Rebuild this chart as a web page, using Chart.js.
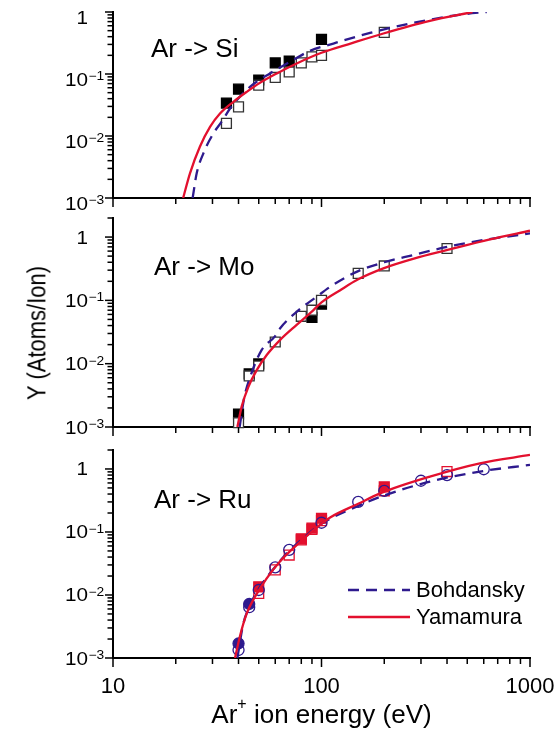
<!DOCTYPE html>
<html>
<head>
<meta charset="utf-8">
<script src="https://cdn.jsdelivr.net/npm/chart.js@4.4.1/dist/chart.umd.min.js"></script>
<style>
  body { margin: 0; background: #fff; width: 556px; height: 731px; overflow: hidden; position: relative;
         font-family: "Liberation Sans", Arial, sans-serif; }
  canvas { position: absolute; left: 0; top: 0; }
  #ytitle { position: absolute; left: 37px; top: 333px; transform: translate(-50%, -50%) rotate(-90deg) scaleY(1.2);
            font-size: 22px; white-space: nowrap; color: #000; }
</style>
</head>
<body>
<canvas id="c1" width="556" height="731"></canvas>
<canvas id="c2" width="556" height="731"></canvas>
<canvas id="c3" width="556" height="731"></canvas>
<div id="ytitle">Y (Atoms/Ion)</div>
<script>
var FONT = '"Liberation Sans", Arial, sans-serif';
var RED = '#e3102e';
var NAVY = '#2e1a8e';

// axes
var xTicks = [10, 20, 30, 40, 50, 60, 70, 80, 90, 100, 200, 300, 400, 500, 600, 700, 800, 900, 1000];
var xLabels = [10, 100, 1000];
var yTicks = [0.001, 0.002, 0.003, 0.004, 0.005, 0.006, 0.007, 0.008, 0.009,
              0.01, 0.02, 0.03, 0.04, 0.05, 0.06, 0.07, 0.08, 0.09,
              0.1, 0.2, 0.3, 0.4, 0.5, 0.6, 0.7, 0.8, 0.9, 1, 2];
var yMajor = [1, 0.1, 0.01, 0.001];
var yBase = ['1', '10', '10', '10'];
var yExp = ['', '\u22121', '\u22122', '\u22123'];

// Ar -> Si
var siFilledE = [35, 40, 50, 60, 70, 100];
var siFilledY = [0.034, 0.057, 0.08, 0.151, 0.161, 0.363];
var siOpenE = [35, 40, 50, 60, 70, 80, 90, 100, 200];
var siOpenY = [0.016, 0.0295, 0.066, 0.088, 0.108, 0.151, 0.189, 0.20, 0.47];
var siYamE = [21.7, 23.4, 26.1, 29.2, 32.6, 37.8, 43.8, 50.7, 61, 76, 100, 140, 198, 331, 530];
var siYamY = [0.001, 0.0025, 0.0067, 0.014, 0.023, 0.0356, 0.0515, 0.072, 0.102, 0.148, 0.22, 0.315, 0.45, 0.72, 1.0];
var siBohE = [24.1, 25.2, 27.1, 30.3, 33.2, 36.5, 45.4, 56.6, 70.6, 88, 114, 171, 265, 479, 620];
var siBohY = [0.001, 0.0025, 0.0052, 0.011, 0.017, 0.028, 0.062, 0.102, 0.157, 0.236, 0.31, 0.46, 0.65, 0.92, 1.0];

// Ar -> Mo
var moFilledE = [40, 45, 50, 90, 100];
var moFilledY = [0.0016, 0.0069, 0.0099, 0.054, 0.087];
var moOpenE = [40, 45, 50, 60, 80, 90, 100, 150, 200, 400];
var moOpenY = [0.00117, 0.0064, 0.0092, 0.022, 0.056, 0.070, 0.10, 0.267, 0.35, 0.66];
var moYamE = [39.5, 41.4, 44.6, 48.9, 54.6, 63.2, 76, 91, 100, 123, 150, 198, 280, 398, 643, 1000];
var moYamY = [0.001, 0.0021, 0.0043, 0.0079, 0.0137, 0.0236, 0.041, 0.069, 0.093, 0.145, 0.215, 0.32, 0.46, 0.62, 0.92, 1.26];
var moBohE = [40.5, 42.5, 45.5, 51.6, 59.8, 63.2, 76, 94.8, 110, 150, 200, 276, 400, 600, 1000];
var moBohY = [0.001, 0.0028, 0.0062, 0.0164, 0.027, 0.036, 0.066, 0.114, 0.164, 0.29, 0.40, 0.52, 0.70, 0.9, 1.14];

// Ar -> Ru
var ruCircOpenE = [40, 45, 50, 60, 70, 100, 150, 200, 300, 400, 600];
var ruCircOpenY = [0.00134, 0.0064, 0.012, 0.0275, 0.052, 0.14, 0.30, 0.45, 0.65, 0.80, 0.99];
var ruCircFilledE = [40, 45];
var ruCircFilledY = [0.0017, 0.0072];
var ruSqOpenE = [50, 60, 70, 80, 90, 100, 200, 400];
var ruSqOpenY = [0.0106, 0.025, 0.043, 0.075, 0.11, 0.151, 0.45, 0.91];
var ruSqFilledE = [50, 80, 90, 100, 200];
var ruSqFilledY = [0.0135, 0.078, 0.115, 0.165, 0.52];
var ruYamE = [38.5, 40.6, 43.8, 48, 54.6, 63.2, 76, 91, 100, 110, 150, 191, 331, 575, 1000];
var ruYamY = [0.001, 0.0022, 0.0051, 0.0094, 0.0184, 0.034, 0.062, 0.105, 0.135, 0.17, 0.28, 0.41, 0.755, 1.23, 1.67];
var ruBohE = [39.5, 42, 45, 50, 60, 70, 80, 100, 150, 200, 331, 575, 1000];
var ruBohY = [0.001, 0.0033, 0.0065, 0.0125, 0.028, 0.05, 0.075, 0.135, 0.26, 0.38, 0.63, 0.91, 1.16];

function pts(xs, ys) {
  return xs.map(function (x, i) { return { x: x, y: ys[i] }; });
}

function curve(xs, ys, dashed) {
  return {
    data: pts(xs, ys), showLine: true, pointRadius: 0,
    borderColor: dashed ? NAVY : RED, borderWidth: 2.3,
    borderDash: dashed ? [11, 7] : [],
    cubicInterpolationMode: 'monotone', order: dashed ? 1 : 0
  };
}

function marks(xs, ys, style, stroke, fill, order) {
  return {
    data: pts(xs, ys), showLine: false, clip: false,
    pointStyle: style, pointRadius: style === 'rect' ? 7 : 5.5,
    pointBorderWidth: 1.3, pointBorderColor: stroke, pointBackgroundColor: fill,
    order: order
  };
}

// the original tick labels are a bit wide: draw them stretched sideways
function wideText(ctx, text, x, y, size, align) {
  ctx.save();
  ctx.translate(x, y);
  ctx.scale(1.15, 1);
  ctx.font = size + 'px ' + FONT;
  ctx.textAlign = align;
  ctx.fillText(text, 0, 0);
  ctx.restore();
}

var decor = {
  id: 'decor',
  afterDraw: function (chart, args, o) {
    var ctx = chart.ctx, a = chart.chartArea, xs = chart.scales.x, ys = chart.scales.y;
    ctx.save();
    ctx.strokeStyle = '#000';
    ctx.lineWidth = 1.5;
    xTicks.forEach(function (v) {
      var px = xs.getPixelForValue(v);
      var len = xLabels.indexOf(v) >= 0 ? 9 : 6;
      ctx.beginPath(); ctx.moveTo(px, a.bottom); ctx.lineTo(px, a.bottom + len); ctx.stroke();
    });
    yTicks.forEach(function (v) {
      if (v > ys.max * 1.001) return;
      var py = ys.getPixelForValue(v);
      var len = yMajor.indexOf(v) >= 0 ? 8 : 5.5;
      ctx.beginPath(); ctx.moveTo(a.left, py); ctx.lineTo(a.left - len, py); ctx.stroke();
    });
    ctx.fillStyle = '#000';
    ctx.textBaseline = 'alphabetic';
    // y tick labels with exponents
    yMajor.forEach(function (v, i) {
      var py = ys.getPixelForValue(v) + (o.labelShift || 0);
      wideText(ctx, yBase[i], 88, py + 6.5, 18, 'right');
      if (yExp[i] !== '') wideText(ctx, yExp[i], 88.5, py + 1, 12, 'left');
    });
    // x tick labels
    if (o.xTitle) {
      ctx.font = '22px ' + FONT;
      ctx.textAlign = 'center';
      xLabels.forEach(function (v) {
        ctx.fillText(String(v), xs.getPixelForValue(v), 693);
      });
    }
    // panel label
    ctx.font = '26px ' + FONT;
    ctx.textAlign = 'left';
    ctx.fillText(o.label, o.lx, o.ly);
    if (o.legend) {
      ctx.lineWidth = 2.3;
      ctx.strokeStyle = NAVY; ctx.setLineDash([11, 7]);
      ctx.beginPath(); ctx.moveTo(348, 590); ctx.lineTo(410, 590); ctx.stroke();
      ctx.strokeStyle = RED; ctx.setLineDash([]);
      ctx.beginPath(); ctx.moveTo(348, 617); ctx.lineTo(410, 617); ctx.stroke();
      ctx.font = '22px ' + FONT;
      ctx.fillText('Bohdansky', 416, 597);
      ctx.fillText('Yamamura', 416, 624);
    }
    if (o.xTitle) {
      var big = '26px ' + FONT, small = '16px ' + FONT;
      ctx.font = big; var w1 = ctx.measureText('Ar').width; var w3 = ctx.measureText(' ion energy (eV)').width;
      ctx.font = small; var w2 = ctx.measureText('+').width;
      var x0 = (a.left + a.right) / 2 - (w1 + w2 + w3) / 2;
      ctx.font = big; ctx.fillText('Ar', x0, 723);
      ctx.font = small; ctx.fillText('+', x0 + w1, 709);
      ctx.font = big; ctx.fillText(' ion energy (eV)', x0 + w1 + w2, 723);
    }
    ctx.restore();
  }
};

function makePanel(id, top, bottom, ymax, datasets, deco) {
  return new Chart(document.getElementById(id), {
    type: 'scatter',
    data: { datasets: datasets },
    options: {
      responsive: false, animation: false, events: [],
      layout: { padding: { top: top, bottom: 731 - bottom, left: 0, right: 26 } },
      plugins: { legend: { display: false }, tooltip: { enabled: false }, decor: deco },
      scales: {
        x: {
          type: 'logarithmic', min: 10, max: 1000,
          afterFit: function (s) { s.height = 0; },
          grid: { display: true, drawOnChartArea: false, drawTicks: false },
          border: { display: true, color: '#000', width: 2 },
          ticks: { display: false }
        },
        y: {
          type: 'logarithmic', min: 0.001, max: ymax,
          afterFit: function (s) { s.width = 113; },
          grid: { display: true, drawOnChartArea: false, drawTicks: false },
          border: { display: true, color: '#000', width: 2 },
          ticks: { display: false }
        }
      }
    },
    plugins: [decor]
  });
}

makePanel('c1', 12, 198, 1, [
  curve(siYamE, siYamY, false),
  curve(siBohE, siBohY, true),
  marks(siOpenE, siOpenY, 'rect', '#333', '#fff', 2),
  marks(siFilledE, siFilledY, 'rect', '#000', '#000', 3)
], { label: 'Ar -> Si', lx: 151, ly: 57, labelShift: 5 });

makePanel('c2', 218, 427, 2, [
  curve(moYamE, moYamY, false),
  curve(moBohE, moBohY, true),
  marks(moOpenE, moOpenY, 'rect', '#333', '#fff', 2),
  marks(moFilledE, moFilledY, 'rect', '#000', '#000', 3)
], { label: 'Ar -> Mo', lx: 154, ly: 275 });

makePanel('c3', 450, 658, 2, [
  curve(ruYamE, ruYamY, false),
  curve(ruBohE, ruBohY, true),
  marks(ruCircOpenE, ruCircOpenY, 'circle', NAVY, 'rgba(255,255,255,0)', 2),
  marks(ruSqOpenE, ruSqOpenY, 'rect', RED, 'rgba(255,255,255,0)', 3),
  marks(ruCircFilledE, ruCircFilledY, 'circle', NAVY, NAVY, 4),
  marks(ruSqFilledE, ruSqFilledY, 'rect', RED, RED, 5)
], { label: 'Ar -> Ru', lx: 154, ly: 508, legend: true, xTitle: true });
</script>
</body>
</html>
